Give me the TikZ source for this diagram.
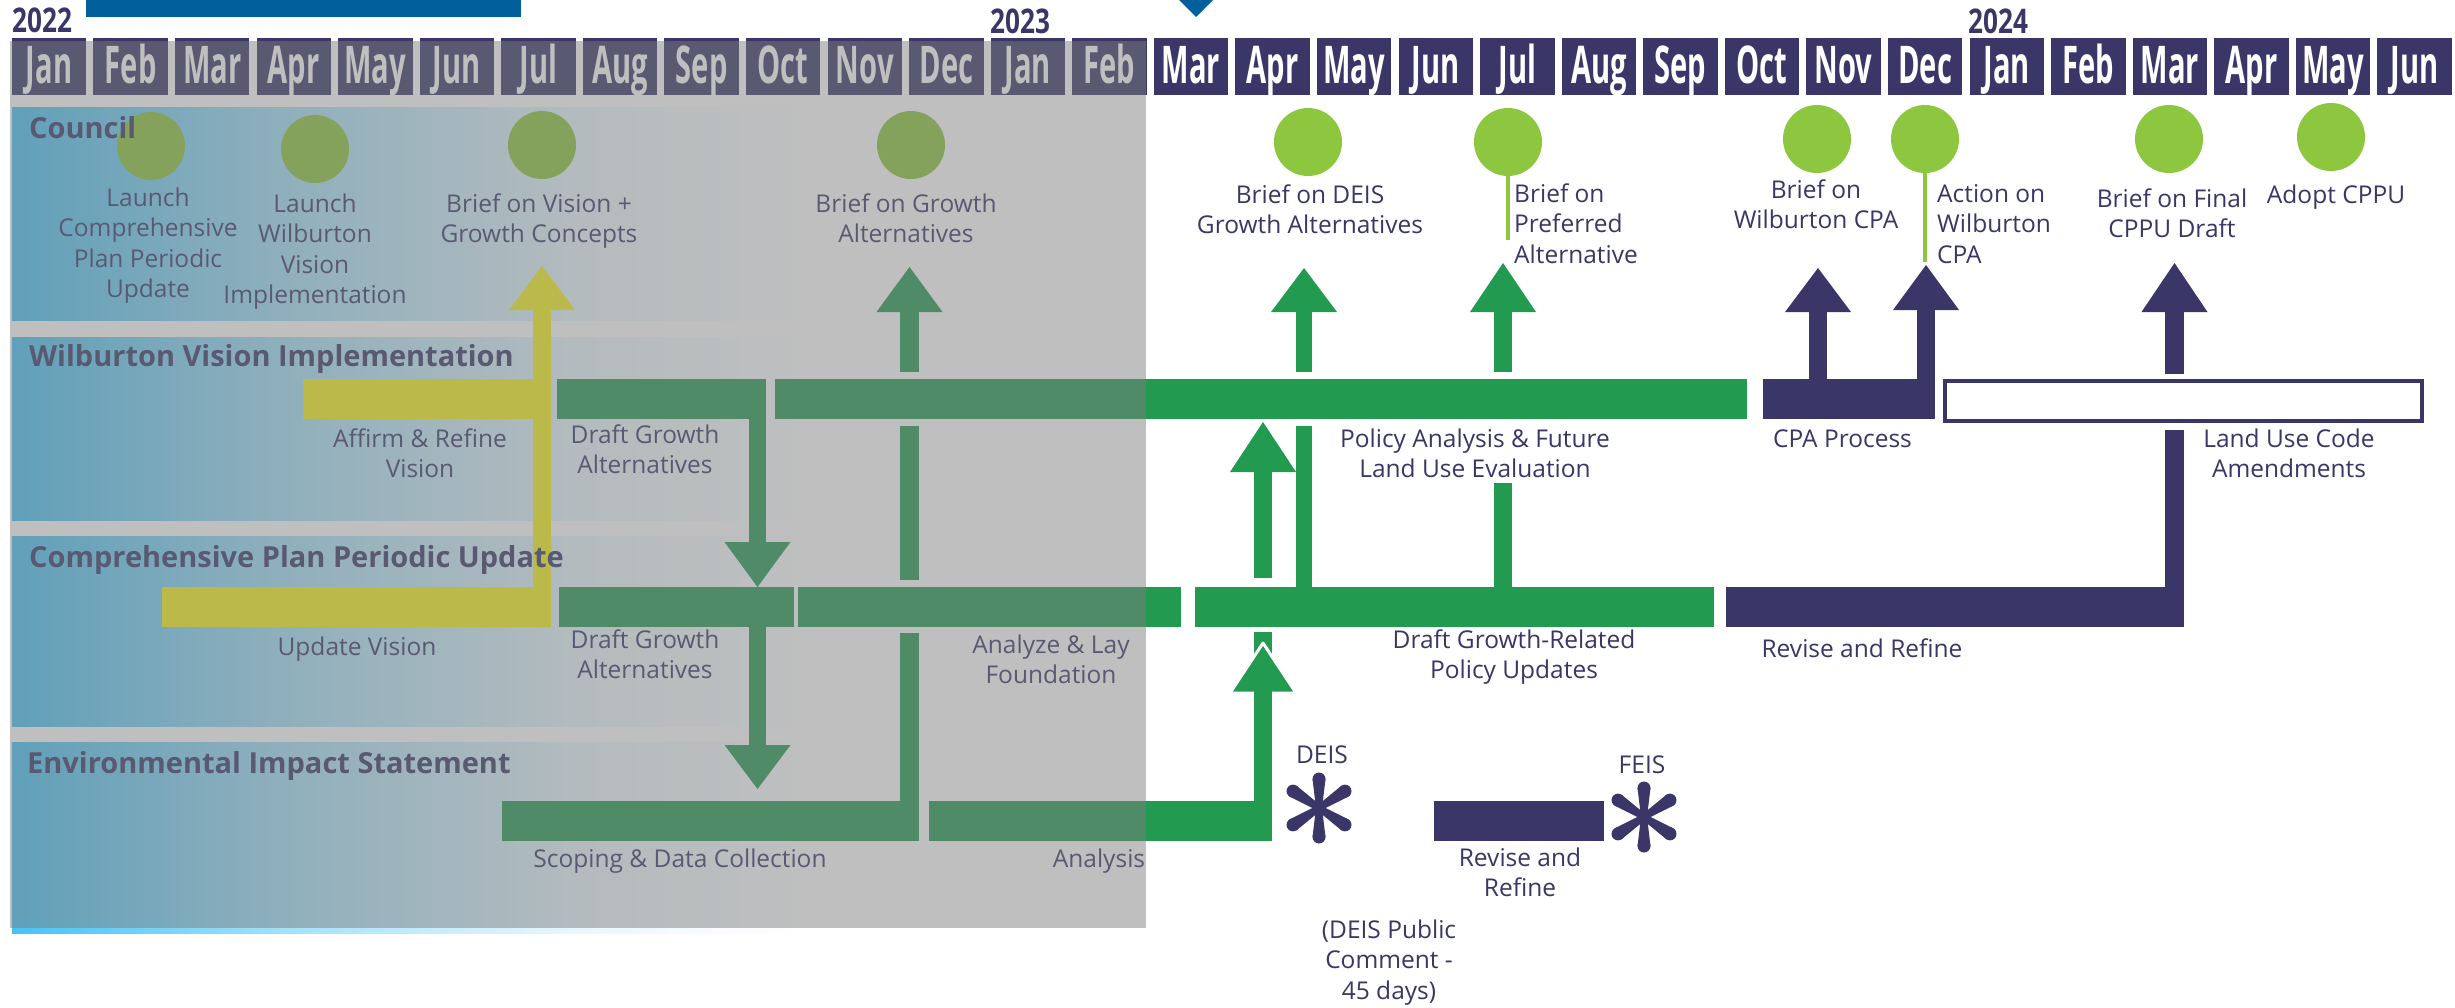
\documentclass[tikz,border=0pt]{standalone}
\usepackage{fontspec}
\setmainfont{Open Sans}
\newfontfamily\monthfont[FakeStretch=0.56]{Open Sans}
\newfontfamily\yearfont[FakeStretch=0.77]{Open Sans}
\usetikzlibrary{calc}
\definecolor{navy}{RGB}{58,55,104}
\definecolor{bargreen}{RGB}{34,154,80}
\definecolor{dotgreen}{RGB}{141,198,63}
\definecolor{baryellow}{RGB}{250,244,28}
\definecolor{topblue}{RGB}{0,96,156}
\definecolor{lanecyan}{RGB}{70,195,245}
\definecolor{veil}{RGB}{125,125,125}
\pgfdeclarehorizontalshading{laneshade}{100bp}{color(0bp)=(lanecyan); color(25bp)=(lanecyan); color(37bp)=(lanecyan!50!white); color(50bp)=(lanecyan!12!white); color(60bp)=(white); color(100bp)=(white)}
% colour, x left, x right, shaft start y, head base y, tip y
\newcommand\myarrow[6]{%
  \fill[#1] (#2,#4) rectangle (#3,{(#5+#6)/2});
  \fill[#1] ({(#2+#3)/2-33},#5) -- ({(#2+#3)/2+33},#5) -- ({(#2+#3)/2},#6) -- cycle;}
\newcommand\myast[2]{%
  \foreach \a/\L in {90/29,270/29,33/31,147/31,213/31,327/31}{%
    \fill[navy] ($(#1,#2)+({\a+90}:3)$) -- ($(#1,#2)+(\a:\L)+({\a+90}:6.5)$) -- ($(#1,#2)+(\a:\L)+({\a-90}:6.5)$) -- ($(#1,#2)+({\a-90}:3)$) -- cycle;
    \fill[navy] ($(#1,#2)+(\a:\L)$) circle (6.5pt);}}
\tikzset{
  lbl/.style={font=\fontsize{24.5}{30.5}\selectfont, text=navy, align=center, anchor=base, inner sep=0pt},
  lblw/.style={lbl, align=left, anchor=base west},
  lanetitle/.style={font=\bfseries\fontsize{29}{35}\selectfont, text=navy, anchor=base west, inner sep=0pt},
  mon/.style={font=\monthfont\bfseries\fontsize{52}{52}\selectfont, text=white, anchor=base, inner sep=0pt},
  yr/.style={font=\yearfont\bfseries\fontsize{34}{34}\selectfont, text=navy, anchor=base west, inner sep=0pt},
  dot/.style={circle, fill=dotgreen, minimum size=68pt, inner sep=0pt},
  stem/.style={dotgreen, line width=4pt}
}
\begin{document}
\begin{tikzpicture}[x=1pt,y=-1pt]
\useasboundingbox (0,0) rectangle (2455,1007);
\fill[white] (0,0) rectangle (2455,1007);
% lanes
\foreach \t/\b in {107/320,337/520,536/726,742/933}{
  \shade[shading=laneshade] (12,\t) rectangle (1146,\b);}
% top marks
\fill[topblue] (86,0) rectangle (521,17);
\fill[topblue] (1179,0) -- (1213,0) -- (1196,17) -- cycle;
% months
\foreach \m [count=\i from 0] in {Jan,Feb,Mar,Apr,May,Jun,Jul,Aug,Sep,Oct,Nov,Dec,Jan,Feb,Mar,Apr,May,Jun,Jul,Aug,Sep,Oct,Nov,Dec,Jan,Feb,Mar,Apr,May,Jun}{
  \pgfmathsetmacro\xl{11.8+81.57*\i}
  \fill[navy] (\xl,38) rectangle ({\xl+74.5},95);
  \node[mon] (m\i) at ({\xl+37.25},83) {\m};
}
\node[yr] (y2022) at (12,32) {2022};
\node[yr] (y2023) at (990,33) {2023};
\node[yr] (y2024) at (1968,33) {2024};
% council dots
\node[dot] (c1) at (151,146) {};
\node[dot] (c2) at (315,149) {};
\node[dot] (c3) at (542,145) {};
\node[dot] (c4) at (911,145) {};
\node[dot] (c5) at (1308,142) {};
\node[dot] (c6) at (1508,142) {};
\node[dot] (c7) at (1817,139) {};
\node[dot] (c8) at (1925,139) {};
\node[dot] (c9) at (2169,139) {};
\node[dot] (c10) at (2331,137) {};
\draw[stem] (c6.south) -- ++(0,64);
\draw[stem] (c8.south) -- ++(0,89);
% council labels (anchor = baseline of last line)
\node[lbl] (l1) at (148,297.5) {Launch\\Comprehensive\\Plan Periodic\\Update};
\node[lbl] (l2) at (315,303.5) {Launch\\Wilburton\\Vision\\Implementation};
\node[lbl] (l3) at (539,242.5) {Brief on Vision +\\Growth Concepts};
\node[lbl] (l4) at (906,242.5) {Brief on Growth\\Alternatives};
\node[lbl] (l5) at (1310,233.5) {Brief on DEIS\\Growth Alternatives};
\node[lblw] (l6) at (1514,263) {Brief on\\Preferred\\Alternative};
\node[lbl] (l7) at (1816,228.5) {Brief on\\Wilburton CPA};
\node[lblw] (l8) at (1937,263) {Action on\\Wilburton\\CPA};
\node[lbl] (l9) at (2172,237.5) {Brief on Final\\CPPU Draft};
\node[lbl] (l10) at (2336,203) {Adopt CPPU};
% yellow
\fill[baryellow] (303,379) rectangle (551,419);
\fill[baryellow] (162,587) rectangle (551,627);
\myarrow{baryellow}{533}{551}{600}{310}{266}
% green bars
\fill[bargreen] (557,379) rectangle (766,419);
\fill[bargreen] (775,379) rectangle (1747,419);
\fill[bargreen] (559,587) rectangle (794,627);
\fill[bargreen] (798,587) rectangle (1181,627);
\fill[bargreen] (1195,587) rectangle (1714,627);
\fill[bargreen] (502,801) rectangle (919,841);
\fill[bargreen] (929,801) rectangle (1272,841);
% green verticals
\fill[bargreen] (900,633) rectangle (919,805);
\fill[bargreen] (900,426) rectangle (919,580);
\myarrow{bargreen}{900}{919}{372}{312}{267}
\myarrow{bargreen}{749}{766}{415}{542}{587}
\myarrow{bargreen}{749}{766}{623}{745}{789}
\fill[bargreen] (1254,632) rectangle (1272,665);
\filldraw[fill=bargreen, draw=white, line width=3pt, line join=round] (1230,693) -- (1296,693) -- (1263,643) -- cycle;
\fill[bargreen] (1254,841) rectangle (1272,680);
\myarrow{bargreen}{1254}{1272}{578}{472}{422}
\fill[bargreen] (1296,426) rectangle (1312,590);
\myarrow{bargreen}{1296}{1312}{372}{312}{268}
\fill[bargreen] (1494,483) rectangle (1512,590);
\myarrow{bargreen}{1494}{1512}{372}{312}{263}
% navy
\fill[navy] (1763,379) rectangle (1935,419);
\myarrow{navy}{1809}{1827}{382}{312}{268}
\myarrow{navy}{1917}{1935}{382}{310}{265}
\draw[navy, line width=4pt] (1945,381) rectangle (2422,421);
\fill[navy] (1726,587) rectangle (2184,627);
\fill[navy] (2165,430) rectangle (2184,590);
\myarrow{navy}{2165}{2184}{374}{312}{263}
\fill[navy] (1434,801) rectangle (1604,841);
\myast{1319}{808}
\myast{1644}{817}
% labels
\node[lbl] (w1) at (420,477.5) {Affirm \& Refine\\Vision};
\node[lbl] (w2) at (645,473.5) {Draft Growth\\Alternatives};
\node[lbl] (w3) at (1475,477.5) {Policy Analysis \& Future\\Land Use Evaluation};
\node[lblw] (w4) at (1773,447) {CPA Process};
\node[lbl] (w5) at (2289,477.5) {Land Use Code\\Amendments};
\node[lbl] (p1) at (357,655) {Update Vision};
\node[lbl] (p2) at (645,678.5) {Draft Growth\\Alternatives};
\node[lbl] (p3) at (1051,683.5) {Analyze \& Lay\\Foundation};
\node[lbl] (p4) at (1514,678.5) {Draft Growth-Related\\Policy Updates};
\node[lbl] (p5) at (1862,657) {Revise and Refine};
\node[lbl] (e1) at (680,867) {Scoping \& Data Collection};
\node[lbl] (e2) at (1099,867) {Analysis};
\node[lbl] (e3) at (1322,763) {DEIS};
\node[lbl] (e4) at (1642,773) {FEIS};
\node[lbl] (e5) at (1520,896.5) {Revise and\\Refine};
\node[lbl] (e6) at (1389,999) {(DEIS Public\\Comment -\\45 days)};
% lane titles (on top of dots and bars)
\node[lanetitle] (tcouncil) at (29,138) {Council};
\node[lanetitle] (twilb) at (29,366) {Wilburton Vision Implementation};
\node[lanetitle] (tcppu) at (29,567) {Comprehensive Plan Periodic Update};
\node[lanetitle] (teis) at (27,773) {Environmental Impact Statement};
% grey veil over the past months
\fill[veil, fill opacity=0.49] (10,41) rectangle (1146,928);
\end{tikzpicture}
\end{document}
